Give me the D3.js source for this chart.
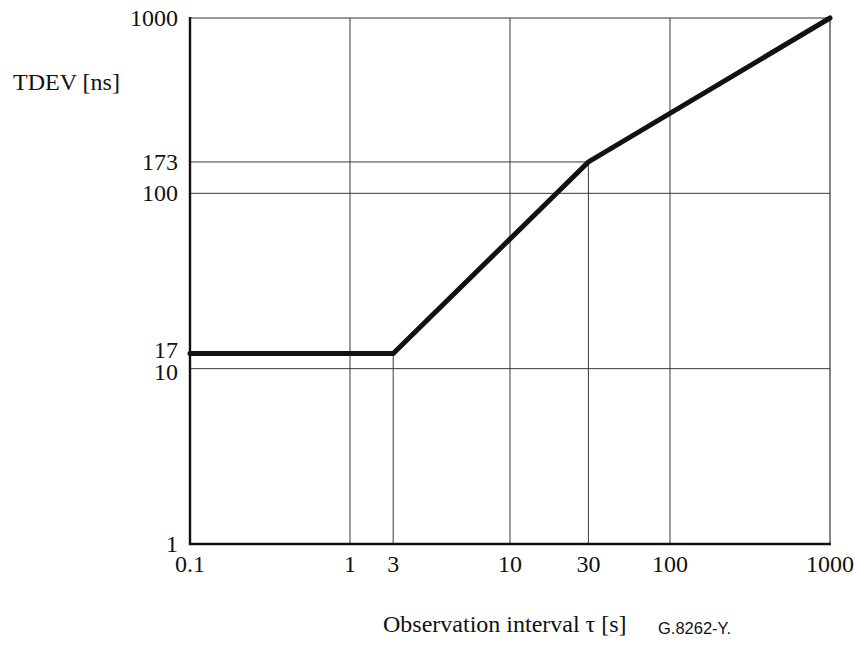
<!DOCTYPE html>
<html>
<head>
<meta charset="utf-8">
<script src="https://cdn.jsdelivr.net/npm/d3@7"></script>
<style>
  html, body { margin: 0; padding: 0; background: #fff; }
  svg { display: block; }
</style>
</head>
<body>
<svg id="chart" width="854" height="648"></svg>
<script>
// ---- data ----
const xTicks = [0.1, 1, 3, 10, 30, 100, 1000];
const xTickLabels = ["0.1", "1", "3", "10", "30", "100", "1000"];
const yTicks = [1, 10, 17, 100, 173, 1000];
const yTickLabels = ["1", "10", "17", "100", "173", "1000"];
const maskTau = [0.1, 3, 30, 1000];
const maskTdev = [17, 17, 173, 1000];
const xTitle = "Observation interval \u03c4 [s]";
const yTitle = "TDEV [ns]";
const figId = "G.8262-Y.";

(function () {
// ---- layout (schematic log axes: decades evenly spaced, 3/30 and 17/173 drawn schematically) ----
const pLeft = 190, pRight = 830, pTop = 18, pBottom = 544;
const xDecade = (pRight - pLeft) / 4;
const yDecade = (pBottom - pTop) / 3;
const xDecPos = [0, 1, 1.27, 2, 2.49, 3, 4];
const yDecPos = [0, 1, 1.086, 2, 2.179, 3];

const x = d3.scaleLog().domain(xTicks).range(xDecPos.map(d => pLeft + d * xDecade));
const y = d3.scaleLog().domain(yTicks).range(yDecPos.map(d => pBottom - d * yDecade));

const svg = d3.select("#chart");
const serif = "'Liberation Serif', 'Times New Roman', serif";
const fs = 24;
const gridColor = "#3a3a3a";

// full grid lines
const xGrid = [1, 10, 100];
const yGrid = [10, 100];
svg.append("g").selectAll("line").data(xGrid).join("line")
  .attr("x1", d => x(d)).attr("x2", d => x(d))
  .attr("y1", pTop).attr("y2", pBottom)
  .attr("stroke", gridColor).attr("stroke-width", 1);
svg.append("g").selectAll("line").data(yGrid).join("line")
  .attr("x1", pLeft).attr("x2", pRight)
  .attr("y1", d => y(d)).attr("y2", d => y(d))
  .attr("stroke", gridColor).attr("stroke-width", 1);

// drop lines from breakpoints
const breaks = [1, 2].map(i => [maskTau[i], maskTdev[i]]);
svg.append("g").selectAll("line").data(breaks).join("line")
  .attr("x1", d => x(d[0])).attr("x2", d => x(d[0]))
  .attr("y1", d => y(d[1])).attr("y2", pBottom)
  .attr("stroke", gridColor).attr("stroke-width", 1);
svg.append("g").selectAll("line").data(breaks).join("line")
  .attr("x1", pLeft).attr("x2", d => x(d[0]))
  .attr("y1", d => y(d[1])).attr("y2", d => y(d[1]))
  .attr("stroke", gridColor).attr("stroke-width", 1);

// frame: top & right thin, left & bottom thick
svg.append("line").attr("x1", pLeft).attr("x2", pRight).attr("y1", pTop).attr("y2", pTop)
  .attr("stroke", "#333").attr("stroke-width", 1.2);
svg.append("line").attr("x1", pRight).attr("x2", pRight).attr("y1", pTop).attr("y2", pBottom)
  .attr("stroke", "#333").attr("stroke-width", 1.2);
svg.append("line").attr("x1", pLeft).attr("x2", pLeft).attr("y1", pTop - 1).attr("y2", pBottom + 1)
  .attr("stroke", "#111").attr("stroke-width", 2.4);
svg.append("line").attr("x1", pLeft - 1).attr("x2", pRight + 1).attr("y1", pBottom).attr("y2", pBottom)
  .attr("stroke", "#111").attr("stroke-width", 2.4);

// mask line
const pts = maskTau.map((t, i) => [t, maskTdev[i]]);
svg.append("path").datum(pts)
  .attr("d", d3.line().x(d => x(d[0])).y(d => y(d[1])))
  .attr("fill", "none").attr("stroke", "#121212")
  .attr("stroke-width", 5).attr("stroke-linejoin", "miter").attr("stroke-linecap", "round");

// x tick labels
svg.append("g").selectAll("text").data(xTicks).join("text")
  .attr("x", d => x(d)).attr("y", 572)
  .attr("text-anchor", "middle")
  .attr("font-family", serif).attr("font-size", fs).attr("fill", "#111")
  .text((d, i) => xTickLabels[i]);

// y tick labels
const yNudge = {10: 3.5, 17: -3.5};
svg.append("g").selectAll("text").data(yTicks).join("text")
  .attr("x", 178).attr("y", d => y(d) + (yNudge[d] || 0))
  .attr("dy", "0.33em")
  .attr("text-anchor", "end")
  .attr("font-family", serif).attr("font-size", fs).attr("fill", "#111")
  .text((d, i) => yTickLabels[i]);

// titles
svg.append("text").attr("x", 13).attr("y", 90)
  .attr("font-family", serif).attr("font-size", fs).attr("fill", "#111")
  .text(yTitle);
svg.append("text").attr("x", 383).attr("y", 632)
  .attr("font-family", serif).attr("font-size", fs).attr("fill", "#111")
  .text(xTitle);
svg.append("text").attr("x", 658).attr("y", 634)
  .attr("font-family", "'Liberation Sans', Arial, sans-serif").attr("font-size", 16.5).attr("fill", "#111")
  .text(figId);
})();
</script>
</body>
</html>
